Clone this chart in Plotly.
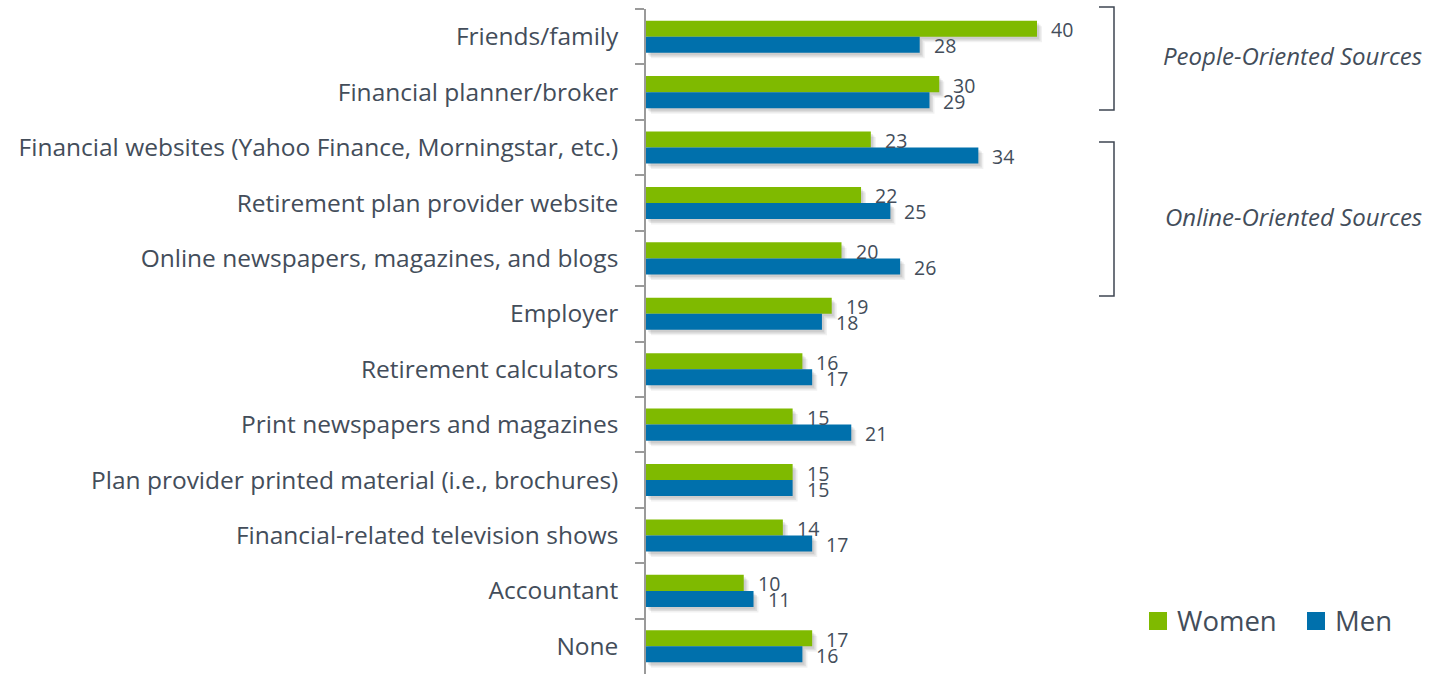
import plotly.graph_objects as go

# Sources of retirement-planning information, % citing each, by gender
categories = [
    "Friends/family",
    "Financial planner/broker",
    "Financial websites (Yahoo Finance, Morningstar, etc.)",
    "Retirement plan provider website",
    "Online newspapers, magazines, and blogs",
    "Employer",
    "Retirement calculators",
    "Print newspapers and magazines",
    "Plan provider printed material (i.e., brochures)",
    "Financial-related television shows",
    "Accountant",
    "None",
]
women = [40, 30, 23, 22, 20, 19, 16, 15, 15, 14, 10, 17]
men = [28, 29, 34, 25, 26, 18, 17, 21, 15, 17, 11, 16]
series_names = ["Women", "Men"]

GREEN = "#7FBA00"
BLUE = "#0070AC"
TEXT = "#434D5A"
FONT = "Open Sans"

W, H = 1430, 674
ML, MR, MT, MB = 646, 0, 9, 0
PW, PH = W - ML - MR, H - MT - MB
PX_PER_UNIT = 9.775
X_MAX = PW / PX_PER_UNIT
N = len(categories)
CAT_PX = PH / N


def px_x(px):
    return (px - ML) / PW


def px_y(py):
    return (H - MB - py) / PH


def cat_axis(shift_units, **kw):
    return dict(type="category", categoryorder="array", categoryarray=categories,
                range=[N - 0.5 - shift_units, -0.5 - shift_units], **kw)


fig = go.Figure()

# base subplot carries the category axis; its bars are fully transparent
for vals in (women, men):
    fig.add_trace(go.Bar(
        x=vals, y=categories, orientation="h",
        marker=dict(color="rgba(0,0,0,0)", line_width=0),
        xaxis="x", yaxis="y", showlegend=False, hoverinfo="skip",
    ))

# soft drop shadow: stacked translucent copies on offset overlay axes
shadow_layers = [(2.0, 2.5, 0.10), (3.5, 4.0, 0.10), (5.0, 5.5, 0.07)]
n = 1
for dx, dy, alpha in shadow_layers:
    n += 1
    for vals in (women, men):
        fig.add_trace(go.Bar(
            x=vals, y=categories, orientation="h",
            marker=dict(color=f"rgba(60,60,60,{alpha})", line_width=0),
            xaxis=f"x{n}", yaxis=f"y{n}", showlegend=False, hoverinfo="skip",
        ))
    sx = dx / PX_PER_UNIT
    fig.update_layout({
        f"xaxis{n}": dict(range=[-sx, X_MAX - sx], overlaying="x",
                          visible=False, fixedrange=True),
        f"yaxis{n}": cat_axis(dy / CAT_PX, overlaying="y", visible=False),
    })

# the bars themselves, on the top-most overlay
n += 1
for name, vals, col in zip(series_names, (women, men), (GREEN, BLUE)):
    fig.add_trace(go.Bar(
        name=name, x=vals, y=categories, orientation="h",
        marker=dict(color=col, line_width=0),
        xaxis=f"x{n}", yaxis=f"y{n}", showlegend=False,
    ))
fig.update_layout({
    f"xaxis{n}": dict(range=[0, X_MAX], overlaying="x", visible=False, fixedrange=True),
    f"yaxis{n}": cat_axis(0, overlaying="y", visible=False),
})
bar_x, bar_y = f"x{n}", f"y{n}"

# value labels just past each bar end
annotations = []
for vals, yshift in ((women, 7), (men, -9)):
    for cat, v in zip(categories, vals):
        annotations.append(dict(
            x=v, y=cat, xref=bar_x, yref=bar_y, text=str(v), showarrow=False,
            xanchor="left", yanchor="middle", xshift=12, yshift=yshift,
            font=dict(family=FONT, size=19.5, color=TEXT),
        ))

# group brackets and their captions
bracket_color = "#3E4552"
shapes = []
for top, bottom in ((7, 110), (142, 296)):
    shapes.append(dict(
        type="path", xref="paper", yref="paper",
        path=(f"M {px_x(1099)},{px_y(top)} L {px_x(1114)},{px_y(top)} "
              f"L {px_x(1114)},{px_y(bottom)} L {px_x(1099)},{px_y(bottom)}"),
        line=dict(color=bracket_color, width=1.5),
    ))
for label, cy in (("People-Oriented Sources", 55), ("Online-Oriented Sources", 216)):
    annotations.append(dict(
        x=px_x(1424), y=px_y(cy), xref="paper", yref="paper",
        text=f"<i>{label}</i>", showarrow=False, xanchor="right", yanchor="middle",
        font=dict(family=FONT, size=24, color=TEXT),
    ))

# legend
for name, col, sq_x in zip(series_names, (GREEN, BLUE), (1149, 1307)):
    shapes.append(dict(
        type="rect", xref="paper", yref="paper",
        x0=px_x(sq_x), x1=px_x(sq_x + 18), y0=px_y(630), y1=px_y(612),
        fillcolor=col, line_width=0,
    ))
    annotations.append(dict(
        x=px_x(sq_x + 26), y=px_y(620), xref="paper", yref="paper",
        text=name, showarrow=False, xanchor="left", yanchor="middle",
        font=dict(family=FONT, size=27.5, color=TEXT),
    ))

fig.update_layout(
    width=W, height=H,
    margin=dict(l=ML, r=MR, t=MT, b=MB, pad=0),
    paper_bgcolor="white", plot_bgcolor="white",
    barmode="group", bargap=0.42, bargroupgap=0,
    showlegend=False,
    xaxis=dict(range=[0, X_MAX], visible=False, fixedrange=True),
    yaxis=cat_axis(
        0,
        showline=True, linecolor="#9A9A9A", linewidth=1.5,
        ticks="outside", ticklen=9, tickcolor="#9A9A9A", tickwidth=1.5,
        tickson="boundaries", ticklabelstandoff=21,
        tickfont=dict(family=FONT, size=24.5, color=TEXT),
        showgrid=False, zeroline=False,
    ),
    shapes=shapes,
    annotations=annotations,
)

fig.write_html("out.html")
